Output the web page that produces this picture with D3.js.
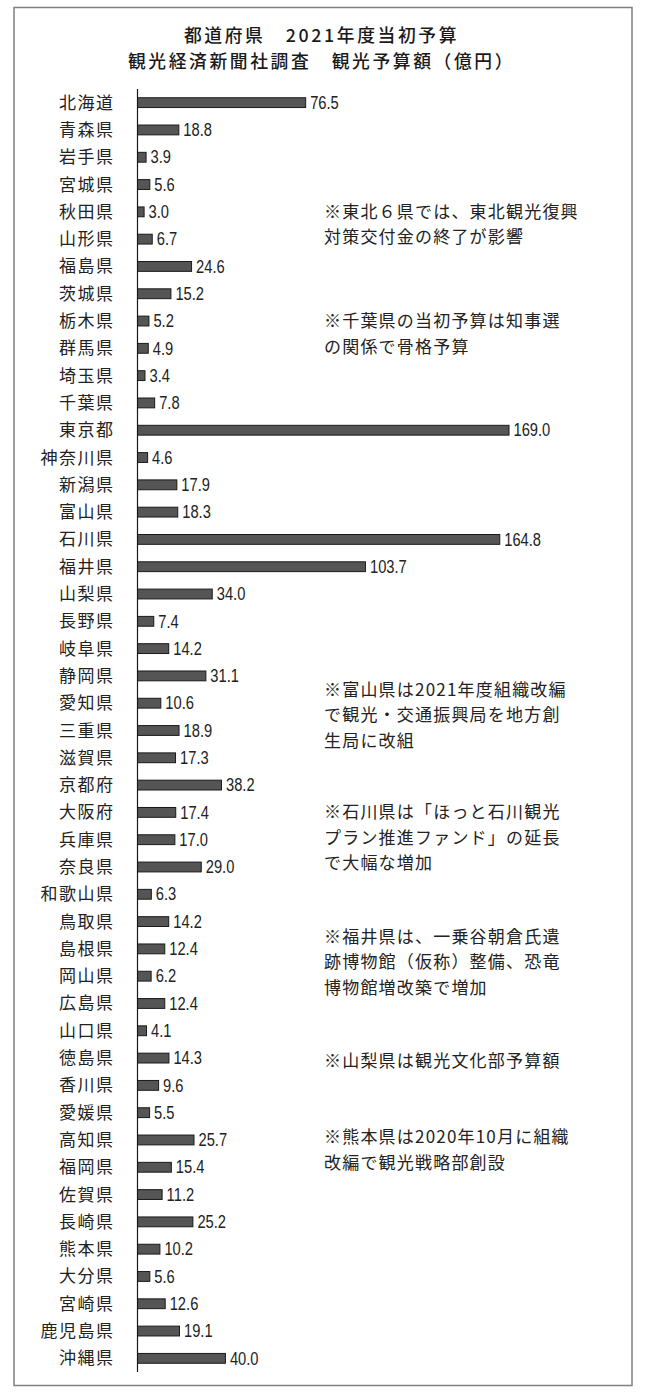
<!DOCTYPE html>
<html>
<head>
<meta charset="utf-8">
<script src="https://cdn.jsdelivr.net/npm/d3@7"></script>
<style>
  html, body { margin: 0; padding: 0; background: #fff; }
  svg { display: block; }
  .jp { font-family: "Noto Sans CJK JP", "Noto Sans", sans-serif; }
  .num { font-family: "Liberation Sans Narrow", "Liberation Sans", Arial, sans-serif; }
</style>
</head>
<body>
<script>
// 都道府県名（上から順に）
const prefectures = [
  '北海道', '青森県', '岩手県', '宮城県', '秋田県', '山形県', '福島県',
  '茨城県', '栃木県', '群馬県', '埼玉県', '千葉県', '東京都', '神奈川県',
  '新潟県', '富山県', '石川県', '福井県', '山梨県', '長野県', '岐阜県',
  '静岡県', '愛知県', '三重県', '滋賀県', '京都府', '大阪府', '兵庫県',
  '奈良県', '和歌山県', '鳥取県', '島根県', '岡山県', '広島県', '山口県',
  '徳島県', '香川県', '愛媛県', '高知県', '福岡県', '佐賀県', '長崎県',
  '熊本県', '大分県', '宮崎県', '鹿児島県', '沖縄県',
];

// 観光予算額（億円）
const budgets = [
  76.5, 18.8, 3.9, 5.6, 3.0, 6.7, 24.6,
  15.2, 5.2, 4.9, 3.4, 7.8, 169.0, 4.6,
  17.9, 18.3, 164.8, 103.7, 34.0, 7.4, 14.2,
  31.1, 10.6, 18.9, 17.3, 38.2, 17.4, 17.0,
  29.0, 6.3, 14.2, 12.4, 6.2, 12.4, 4.1,
  14.3, 9.6, 5.5, 25.7, 15.4, 11.2, 25.2,
  10.2, 5.6, 12.6, 19.1, 40.0,
];

const titleLines = [
  '都道府県　2021年度当初予算',
  '観光経済新聞社調査　観光予算額（億円）',
];

// 注記：row は何行目の高さに置くか（小数可）
const noteRows = [4, 8, 21.5, 26, 30.55, 35.1, 37.9];
const noteTexts = [
  ['※東北６県では、東北観光復興', '対策交付金の終了が影響'],
  ['※千葉県の当初予算は知事選', 'の関係で骨格予算'],
  ['※富山県は2021年度組織改編', 'で観光・交通振興局を地方創', '生局に改組'],
  ['※石川県は「ほっと石川観光', 'プラン推進ファンド」の延長', 'で大幅な増加'],
  ['※福井県は、一乗谷朝倉氏遺', '跡博物館（仮称）整備、恐竜', '博物館増改築で増加'],
  ['※山梨県は観光文化部予算額'],
  ['※熊本県は2020年10月に組織', '改編で観光戦略部創設'],
];

const width = 646;
const height = 1394;

const data = prefectures.map((name, i) => ({ name, value: budgets[i] }));

const svg = d3.select('body')
  .append('svg')
  .attr('width', width)
  .attr('height', height);

// 外枠
svg.append('rect')
  .attr('x', 14)
  .attr('y', 7.5)
  .attr('width', 618)
  .attr('height', 1378)
  .attr('fill', 'none')
  .attr('stroke', '#808080')
  .attr('stroke-width', 1.5);

// タイトル
svg.append('g')
  .selectAll('text')
  .data(titleLines)
  .join('text')
  .attr('class', 'jp')
  .attr('x', 321.5)
  .attr('y', (d, i) => 41.5 + i * 26)
  .attr('text-anchor', 'middle')
  .attr('font-size', 17.8)
  .attr('letter-spacing', 2.6)
  .attr('font-weight', 500)
  .attr('fill', '#1a1a1a')
  .text((d) => d);

const x = d3.scaleLinear()
  .domain([0, 169])
  .range([137.5, 509]);

const y = d3.scaleBand()
  .domain(prefectures)
  .range([89, 1372])
  .paddingInner(0.64)
  .paddingOuter(0.32);

const cy = (name) => y(name) + y.bandwidth() / 2;

// 注記の位置は行番号から
const rowY = d3.scaleLinear()
  .domain([0, prefectures.length - 1])
  .range([cy(prefectures[0]), cy(prefectures[prefectures.length - 1])]);

const chart = svg.append('g');

// バー
chart.selectAll('rect.bar')
  .data(data)
  .join('rect')
  .attr('class', 'bar')
  .attr('x', x(0))
  .attr('y', (d) => y(d.name))
  .attr('width', (d) => x(d.value) - x(0))
  .attr('height', y.bandwidth())
  .attr('fill', '#555555')
  .attr('stroke', '#1a1a1a')
  .attr('stroke-width', 1);

// 縦軸の線
chart.append('line')
  .attr('x1', x(0))
  .attr('x2', x(0))
  .attr('y1', 89)
  .attr('y2', 1372)
  .attr('stroke', '#1a1a1a')
  .attr('stroke-width', 1.2);

// 県名
chart.selectAll('text.cat')
  .data(data)
  .join('text')
  .attr('class', 'cat jp')
  .attr('x', 114.5)
  .attr('y', (d) => cy(d.name) + 6)
  .attr('text-anchor', 'end')
  .attr('font-size', 17)
  .attr('letter-spacing', 1.5)
  .attr('fill', '#222')
  .text((d) => d.name);

// 値ラベル（細めの書体に見せるため横を詰める）
const fmt = d3.format('.1f');
chart.selectAll('text.val')
  .data(data)
  .join('text')
  .attr('class', 'val num')
  .attr('transform', (d) => `translate(${x(d.value) + 4.5},${cy(d.name) + 6.2}) scale(0.84,1)`)
  .attr('font-size', 17.5)
  .attr('fill', '#222')
  .text((d) => fmt(d.value));

// 注記
const notes = svg.append('g');
noteTexts.forEach((lines, k) => {
  const top = rowY(noteRows[k]);
  notes.append('text')
    .attr('class', 'jp')
    .attr('font-size', 17)
    .attr('letter-spacing', 1.2)
    .attr('fill', '#222')
    .selectAll('tspan')
    .data(lines)
    .join('tspan')
    .attr('x', 324)
    .attr('y', (d, i) => top + 6 + i * 25.5)
    .text((d) => d);
});
</script>
</body>
</html>
